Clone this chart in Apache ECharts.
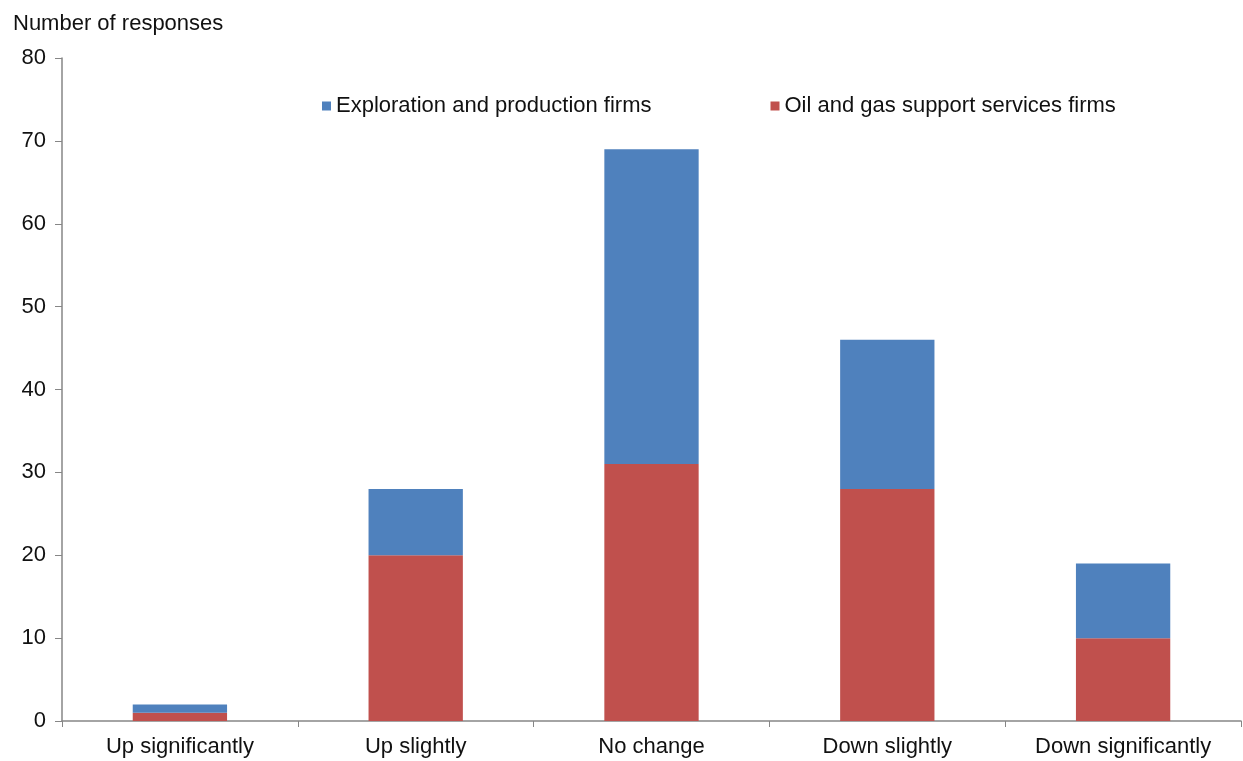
<!DOCTYPE html>
<html>
<head>
<meta charset="utf-8">
<script src="https://cdn.jsdelivr.net/npm/echarts@6/dist/echarts.min.js"></script>
<style>
html, body { margin: 0; padding: 0; background: #fff; }
#chart { width: 1243px; height: 761px; }
</style>
</head>
<body>
<div id="chart"></div>
<script>
var categories = ['Up significantly', 'Up slightly', 'No change', 'Down slightly', 'Down significantly'];
var supportServices = [1, 20, 31, 28, 10];
var exploration = [1, 8, 38, 18, 9];
var yTicks = { min: 0, max: 80, interval: 10 };

var font = '"Liberation Sans", Arial, sans-serif';
var myChart = echarts.init(document.getElementById('chart'));
var option = {
	animation: false,
	textStyle: { fontFamily: font },
	title: {
		text: 'Number of responses',
		left: 8, top: 8,
		textStyle: { fontFamily: font, fontSize: 22, fontWeight: 'normal', color: '#111' }
	},
	legend: {
		data: ['Exploration and production firms', 'Oil and gas support services firms'],
		left: 317, top: 90,
		icon: 'rect',
		itemWidth: 9, itemHeight: 9,
		itemGap: 119,
		textStyle: { fontFamily: font, fontSize: 22, color: '#111' }
	},
	grid: { left: 62, right: 2, top: 58, bottom: 40 },
	xAxis: {
		type: 'category',
		data: categories,
		axisLine: { lineStyle: { color: '#868686', width: 1.5 } },
		axisTick: { show: true, length: 6, lineStyle: { color: '#868686' } },
		axisLabel: { fontFamily: font, fontSize: 22, color: '#111', margin: 15 }
	},
	yAxis: {
		type: 'value',
		min: yTicks.min, max: yTicks.max, interval: yTicks.interval,
		splitLine: { show: false },
		axisLine: { show: true, lineStyle: { color: '#868686', width: 1.5 } },
		axisTick: { show: true, length: 7, lineStyle: { color: '#868686' } },
		axisLabel: { fontFamily: font, fontSize: 22, color: '#111', margin: 16 }
	},
	series: [
		{
			name: 'Oil and gas support services firms',
			type: 'bar', stack: 'total',
			barWidth: '40%',
			itemStyle: { color: '#C0504D' },
			data: supportServices
		},
		{
			name: 'Exploration and production firms',
			type: 'bar', stack: 'total',
			barWidth: '40%',
			itemStyle: { color: '#4F81BD' },
			data: exploration
		}
	]
};
myChart.setOption(option);
</script>
</body>
</html>
